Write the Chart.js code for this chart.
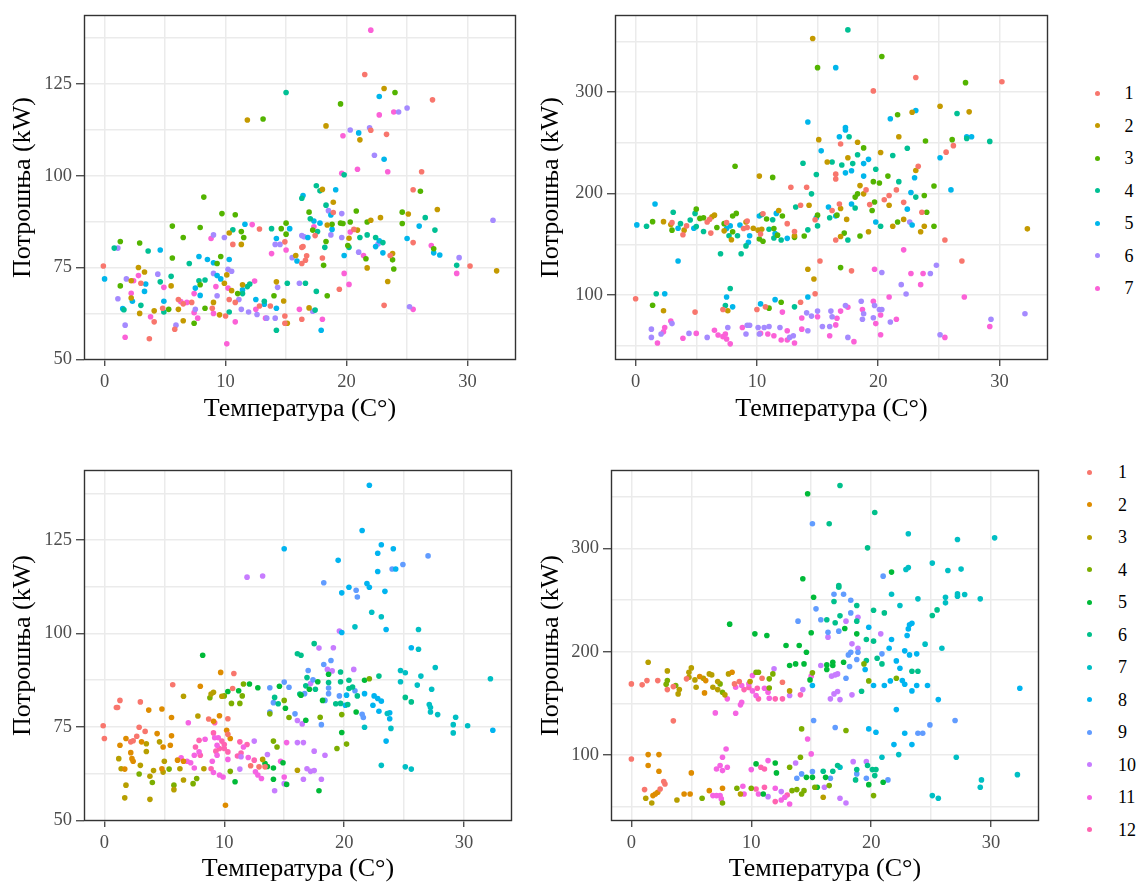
<!DOCTYPE html>
<html>
<head>
  <title>Потрошња и температура</title>
  <script src="https://cdn.jsdelivr.net/npm/chart.js"></script>
  <style>
    body { margin: 0; width: 1142px; height: 886px; overflow: hidden; position: relative; background: #fff;
           font-family: 'Liberation Serif', 'Times New Roman', serif; }
    canvas { position: absolute; }
    .dot { position: absolute; width: 5px; height: 5px; border-radius: 50%; }
    .lab { position: absolute; font-size: 18px; line-height: 22px; color: #000; }
  </style>
</head>
<body>
  <script>
    // labels and colours (ggplot hue palette)
    const dayLabels = ['1', '2', '3', '4', '5', '6', '7'];
    const monthLabels = ['1', '2', '3', '4', '5', '6', '7', '8', '9', '10', '11', '12'];
    const dayColors = ['#F8766D', '#C49A00', '#53B400', '#00C094', '#00B6EB', '#A58AFF', '#FB61D7'];
    const monthColors = ['#F8766D', '#DE8C00', '#B79F00', '#7CAE00', '#00BA38', '#00C08B',
                         '#00BFC4', '#00B4F0', '#619CFF', '#C77CFF', '#F564E3', '#FF64B0'];
    const xTitle = 'Температура (C°)';
    const yTitle = 'Потрошња (kW)';
    const xTicks = [0, 10, 20, 30];
    const yTicksA = [50, 75, 100, 125];
    const yTicksB = [100, 200, 300];

    // building A (left panels), coloured by day of week: [temperature, kW]
    const aDay1 = [[12.8,85.5],[10.6,81.3],[14.9,82.0],[-0.1,75.4],[3.0,70.7],[4.8,63.9],[3.7,55.6],[4.1,60.2],[5.8,58.2],[6.1,66.3],[6.5,65.1],[7.2,65.5],[8.9,63.9],[10.0,61.8],[10.3,66.3],[10.8,65.5],[12.8,64.5],[13.7,64.5],[14.9,61.8],[14.9,59.8],[16.4,80.7],[21.5,127.6],[27.1,120.7],[22.0,112.4],[23.3,111.3],[26.2,101.1],[25.5,96.2],[18.9,90.0],[20.6,85.4],[25.5,81.8],[30.2,75.4],[23.6,78.3],[23.1,64.7],[19.4,69.1],[18.0,77.6],[16.7,78.2],[16.6,77.0],[16.3,76.1],[16.3,80.5],[17.4,83.7],[16.3,60.9]];
    const aDay2 = [[11.8,115.2],[10.3,84.4],[11.3,81.3],[15.8,78.3],[2.2,71.4],[2.8,75.0],[3.3,73.8],[2.2,66.7],[2.9,62.5],[4.1,63.2],[5.5,70.0],[6.1,63.6],[6.5,60.5],[9.0,65.5],[9.5,62.1],[9.9,70.7],[10.1,73.0],[10.5,68.7],[11.4,70.3],[14.2,71.1],[14.8,65.9],[15.1,59.8],[23.1,123.8],[18.3,113.6],[21.1,109.8],[18.0,96.3],[18.9,92.8],[25.1,89.6],[27.5,90.8],[18.4,86.6],[22.0,87.9],[22.8,88.6],[20.9,85.2],[32.4,74.1],[20.2,83.0],[23.8,78.8],[21.7,74.9],[23.4,71.2],[16.9,64.0]];
    const aDay3 = [[13.1,115.5],[8.2,94.2],[9.7,89.7],[10.8,89.4],[5.6,86.3],[7.9,85.9],[6.5,83.2],[1.3,82.1],[2.9,81.7],[5.6,77.6],[9.3,76.1],[9.6,78.0],[11.3,84.8],[11.5,83.2],[14.6,85.6],[15.0,87.1],[15.0,84.1],[1.3,70.0],[5.3,63.6],[7.9,70.3],[7.4,59.8],[8.3,63.9],[11.0,67.9],[14.0,67.3],[24.0,122.7],[19.5,119.6],[26.1,95.8],[16.9,90.1],[20.8,90.4],[24.6,90.1],[18.8,86.8],[19.5,87.1],[19.7,87.0],[20.3,87.4],[21.7,87.4],[24.6,87.0],[17.2,85.2],[27.2,80.1],[20.1,81.0],[21.6,77.4],[23.8,77.1],[23.9,74.6],[18.4,67.3],[18.1,75.6],[18.3,82.1]];
    const aDay4 = [[15.0,122.7],[0.8,80.3],[3.6,79.5],[7.0,76.1],[10.6,85.3],[13.8,85.6],[3.0,64.7],[1.6,63.5],[4.6,71.1],[5.5,72.6],[4.9,62.9],[7.8,71.4],[8.3,71.6],[10.3,62.9],[11.8,69.8],[12.0,70.5],[11.4,67.9],[13.2,65.8],[14.2,57.9],[15.1,70.7],[16.3,93.9],[19.8,100.3],[17.5,97.3],[17.8,95.9],[18.3,92.0],[26.5,88.6],[17.0,88.3],[27.3,85.2],[17.6,84.8],[21.1,83.2],[21.7,83.9],[22.4,83.2],[23.0,81.8],[29.1,75.6],[20.2,80.5],[17.5,68.5],[16.6,70.7],[18.2,80.5],[17.4,63.4]];
    const aDay5 = [[0.0,71.9],[4.6,79.8],[7.8,78.0],[8.5,77.2],[9.0,76.3],[10.3,77.2],[11.6,86.8],[15.3,85.6],[14.2,82.9],[15.9,76.8],[3.4,70.5],[3.3,68.5],[1.5,63.8],[2.3,65.8],[4.9,65.8],[7.5,69.4],[7.9,67.4],[9.3,72.8],[9.6,71.9],[11.4,68.9],[12.5,66.3],[13.2,65.0],[14.2,63.9],[22.7,121.6],[21.0,111.7],[23.1,104.5],[19.1,96.2],[16.4,94.6],[18.7,89.3],[17.3,87.7],[17.8,87.1],[26.0,86.3],[18.8,85.4],[22.7,82.3],[22.4,80.7],[25.0,82.9],[27.2,79.0],[27.7,78.4],[19.8,78.3],[23.0,79.0],[16.8,83.2],[17.9,57.9]];
    const aDay6 = [[1.1,80.3],[9.0,83.9],[9.9,83.2],[14.1,81.3],[14.5,81.3],[15.5,77.7],[1.8,71.9],[1.1,66.5],[1.7,59.3],[4.4,73.2],[5.9,59.3],[7.5,63.6],[9.0,73.4],[10.2,74.5],[10.5,74.0],[9.3,67.3],[11.1,66.3],[11.3,63.6],[11.9,62.9],[12.6,62.2],[13.4,61.2],[14.3,69.6],[14.1,61.2],[16.1,70.7],[16.3,83.7],[25.0,118.5],[24.3,117.4],[20.3,112.5],[21.9,113.1],[22.3,105.6],[18.5,90.5],[19.6,89.7],[32.1,87.9],[18.7,83.9],[22.6,81.4],[29.3,77.7],[19.6,83.2],[21.0,79.2],[25.2,64.3],[17.2,63.1],[16.5,83.4]];
    const aDay7 = [[8.8,82.9],[12.2,86.7],[13.8,78.8],[15.0,79.8],[2.4,71.4],[2.8,72.8],[2.2,68.0],[1.7,56.0],[3.8,61.6],[4.9,69.6],[6.3,65.7],[6.8,65.5],[7.4,67.9],[7.4,62.7],[7.7,61.2],[9.2,69.8],[9.0,62.5],[10.2,69.4],[10.8,60.2],[12.4,71.3],[12.5,63.6],[13.3,61.2],[16.1,63.6],[10.1,54.2],[22.0,139.7],[22.7,116.6],[23.9,117.4],[19.7,110.9],[20.9,101.8],[19.6,100.7],[23.4,101.1],[17.3,86.1],[20.3,84.7],[27.0,81.0],[29.1,73.4],[21.4,78.3],[25.5,63.6],[19.8,73.4],[20.2,70.4],[18.0,60.9]];

    // building B (right panels), coloured by day of week
    const bDay1 = [[12.8,206.3],[14.1,206.3],[13.6,188.5],[3.0,171.4],[3.9,159.5],[4.2,168.2],[6.1,174.6],[5.9,172.0],[6.2,161.1],[7.5,171.4],[9.2,173.0],[8.9,165.6],[9.2,166.6],[10.5,180.1],[10.3,160.1],[12.5,170.4],[13.1,162.7],[14.8,174.3],[15.2,133.6],[0.0,96.4],[4.9,83.2],[7.2,85.8],[10.0,85.8],[10.7,88.4],[13.6,92.9],[14.8,101.3],[23.1,314.5],[30.2,310.3],[19.6,301.3],[16.9,248.9],[26.2,247.3],[25.6,240.9],[16.5,219.2],[16.5,214.4],[23.3,227.0],[19.0,203.7],[21.5,203.7],[20.9,198.2],[20.5,194.0],[16.2,183.4],[16.8,189.8],[19.3,189.2],[22.1,191.4],[23.6,181.7],[25.5,154.3],[16.5,154.3],[17.8,123.9],[26.9,133.6]];
    const bDay2 = [[14.6,353.0],[15.1,253.2],[15.8,231.2],[10.2,217.3],[14.3,188.5],[6.5,178.8],[6.3,177.2],[9.1,172.0],[2.3,172.4],[2.9,169.5],[4.0,164.0],[7.3,163.3],[7.9,154.6],[9.7,165.9],[10.1,164.0],[10.4,164.9],[11.8,183.4],[13.1,158.5],[14.2,125.5],[14.7,115.8],[2.3,84.5],[7.6,84.5],[22.8,280.3],[25.1,286.1],[27.5,280.6],[18.3,250.6],[21.7,256.1],[20.2,240.6],[17.5,235.4],[23.1,222.8],[18.5,207.9],[18.8,199.8],[16.9,185.3],[20.9,188.5],[17.4,174.6],[21.2,167.9],[22.1,174.6],[23.8,167.9],[23.5,162.4],[32.3,165.3],[16.9,157.8],[19.2,162.4]];
    const bDay3 = [[15.0,324.2],[8.2,227.0],[11.3,216.0],[5.0,184.7],[5.3,175.6],[5.6,176.3],[8.3,180.5],[8.0,177.9],[7.3,170.4],[10.8,175.0],[12.1,177.9],[1.4,172.4],[3.0,164.0],[6.7,166.6],[8.0,162.4],[10.2,155.3],[10.5,153.0],[11.4,165.6],[11.7,159.1],[13.1,156.9],[13.9,158.2],[15.0,178.8],[1.4,90.0],[11.0,87.1],[12.0,92.9],[20.3,335.2],[27.2,309.4],[21.6,277.7],[18.8,245.1],[23.9,251.9],[26.1,253.2],[20.8,217.3],[19.6,211.8],[20.1,210.5],[24.6,207.6],[18.3,199.8],[18.1,196.6],[23.8,198.2],[19.7,191.8],[19.5,183.4],[24.0,181.7],[16.6,178.8],[21.6,172.0],[24.6,167.9],[17.2,161.1],[18.5,158.2],[16.9,127.1]];
    const bDay4 = [[13.8,229.9],[14.9,218.9],[14.5,199.8],[13.2,186.9],[3.1,181.7],[4.9,180.5],[4.5,174.0],[10.4,179.5],[11.3,174.3],[0.9,167.9],[3.7,170.4],[5.0,167.5],[5.6,162.7],[7.7,158.5],[8.4,158.5],[9.1,148.5],[11.0,164.9],[11.4,156.2],[12.0,154.3],[14.2,164.3],[15.0,168.2],[7.0,140.7],[8.7,140.7],[1.7,101.3],[7.8,106.5],[7.4,89.7],[13.1,88.4],[17.5,361.4],[26.5,279.0],[17.6,256.1],[27.3,254.4],[29.2,251.5],[22.4,244.8],[21.2,237.6],[18.3,238.3],[16.2,231.2],[17.0,228.3],[17.9,229.6],[19.8,224.1],[21.7,211.8],[23.1,196.6],[18.1,185.9],[16.0,176.3],[20.2,167.9],[17.5,154.3]];
    const bDay5 = [[14.2,270.6],[15.3,242.2],[1.6,189.8],[10.2,177.9],[11.6,180.5],[0.1,169.2],[3.5,165.9],[4.8,165.9],[7.5,165.6],[7.8,168.2],[8.6,169.1],[9.4,158.5],[9.3,152.0],[11.5,160.7],[12.5,155.9],[14.9,176.3],[15.9,186.9],[3.5,133.6],[2.4,101.3],[7.5,98.1],[8.0,88.4],[10.3,91.3],[11.5,95.5],[14.2,98.1],[16.5,324.2],[21.0,273.8],[23.1,281.9],[17.3,265.1],[17.3,262.8],[16.8,256.1],[27.3,256.1],[27.7,256.1],[25.1,235.4],[19.2,233.8],[18.8,229.6],[17.3,220.5],[17.8,222.5],[18.8,217.3],[23.0,215.7],[26.0,203.7],[22.7,201.1],[17.8,189.8],[22.4,184.7],[16.5,177.9],[19.8,172.0],[22.8,169.1]];
    const bDay6 = [[14.1,82.5],[14.5,79.3],[15.0,84.2],[1.3,66.4],[1.3,58.3],[2.1,61.6],[3.0,71.9],[4.4,62.2],[5.9,58.3],[7.6,68.0],[9.1,61.6],[9.2,70.3],[9.4,70.3],[10.1,68.0],[10.2,61.6],[10.6,68.0],[11.0,69.0],[11.9,68.0],[12.7,58.3],[13.0,59.9],[14.2,64.8],[15.4,69.0],[16.0,69.0],[22.6,172.0],[20.3,122.3],[24.3,121.3],[24.8,129.4],[21.9,110.3],[22.3,101.0],[17.3,89.7],[16.1,84.2],[16.2,78.7],[17.5,58.3],[18.6,93.9],[18.8,81.6],[18.7,76.1],[19.7,89.7],[20.1,85.8],[20.3,85.8],[19.6,77.7],[21.0,73.5],[25.1,60.9],[29.3,76.1],[32.1,81.6]];
    const bDay7 = [[12.1,83.2],[13.7,77.4],[15.0,78.7],[1.8,52.8],[2.3,63.8],[2.4,68.0],[2.9,74.5],[3.9,57.4],[5.0,62.2],[6.5,65.4],[6.8,60.6],[7.2,59.0],[7.4,61.6],[7.5,56.7],[7.8,51.9],[8.8,68.0],[10.3,62.2],[10.9,61.6],[11.4,59.9],[12.0,55.7],[12.5,64.8],[12.5,55.7],[13.1,52.8],[13.7,66.4],[16.0,59.9],[22.1,144.6],[19.7,125.5],[22.7,121.3],[23.7,121.3],[23.5,110.3],[20.9,98.1],[27.1,98.1],[17.5,88.0],[16.9,84.2],[16.6,77.1],[16.5,70.6],[18.0,54.1],[18.7,85.8],[19.6,93.9],[20.2,80.3],[19.8,71.9],[20.2,60.9],[21.5,76.1],[25.5,58.3],[29.2,69.0]];

    // building A, coloured by month
    const aMon1 = [[10.8,89.3],[5.7,86.3],[1.3,82.1],[1.0,80.2],[1.1,80.2],[3.0,81.7],[8.7,77.1],[10.3,77.2],[10.7,85.3],[-0.1,75.3],[0.0,71.9],[2.2,71.0],[2.4,71.3],[2.7,72.5],[2.9,74.9],[3.4,73.8],[10.3,73.0],[12.2,64.6],[12.9,64.3],[13.4,64.3]];
    const aMon2 = [[9.7,89.6],[8.0,85.9],[3.7,79.5],[4.8,79.8],[5.6,77.5],[9.1,76.5],[9.6,78.0],[1.3,70.1],[1.8,71.9],[3.1,71.0],[1.7,63.7],[2.2,68.1],[2.3,66.5],[2.4,65.8],[4.8,63.8],[4.4,73.2],[4.9,69.6],[5.6,72.6],[5.5,70.1],[6.1,66.1],[6.6,65.8],[10.2,74.1],[10.5,71.9],[10.1,54.0]];
    const aMon3 = [[6.6,83.2],[7.8,77.9],[8.9,83.8],[9.1,84.3],[9.8,83.2],[3.5,70.5],[3.5,68.4],[1.2,66.5],[1.4,63.8],[3.0,64.7],[4.1,63.3],[1.8,59.4],[1.7,56.0],[3.8,55.6],[3.8,61.8],[4.6,71.0],[5.0,65.8],[4.9,62.9],[5.8,58.2],[6.3,63.8],[6.6,60.8],[8.3,63.8],[13.2,66.3],[16.1,63.4]];
    const aMon4 = [[8.8,82.8],[10.0,83.3],[11.5,83.3],[11.6,86.5],[10.6,81.3],[11.3,81.3],[15.0,82.1],[13.8,78.5],[15.4,77.5],[2.9,62.4],[4.0,60.1],[5.4,63.7],[5.8,59.4],[7.7,61.2],[7.4,59.8],[10.5,63.1],[14.1,71.2],[14.4,69.6],[22.1,87.9],[19.8,78.3],[20.2,70.4],[19.4,69.2],[18.0,77.6]];
    const aMon5 = [[8.2,94.2],[10.3,84.5],[11.2,84.7],[12.1,86.5],[12.8,85.5],[14.6,85.9],[15.1,80.0],[16.4,83.5],[10.9,60.3],[13.4,65.2],[13.6,64.4],[14.1,64.0],[14.1,61.0],[15.2,59.6],[14.9,65.4],[18.7,89.1],[17.8,87.1],[21.7,87.5],[17.1,85.1],[21.0,79.0],[19.8,73.5],[18.2,82.1],[16.8,76.8],[17.9,57.9]];
    const aMon6 = [[14.2,82.9],[14.5,81.2],[16.1,94.6],[16.4,94.2],[16.3,83.8],[17.5,97.3],[19.7,89.7],[16.9,88.2],[18.7,86.9],[19.7,87.1],[20.4,87.5],[22.9,88.6],[17.6,85.1],[20.4,85.3],[20.7,85.7],[21.1,83.3],[25.1,82.9],[25.6,81.7],[20.3,81.0],[19.7,81.3],[19.3,81.2],[16.8,86.0]];
    const aMon7 = [[22.3,105.7],[23.1,104.5],[20.9,101.8],[26.2,101.1],[26.2,95.8],[24.7,90.1],[25.1,89.5],[27.6,90.9],[26.4,88.6],[32.2,87.9],[24.7,87.1],[26.1,86.2],[27.3,85.1],[27.1,81.0],[27.2,80.2],[27.2,79.0],[27.8,78.3],[29.3,77.6],[29.1,75.6],[29.1,73.4],[30.3,75.3],[23.6,78.6],[21.7,74.9],[23.9,74.6],[23.1,64.7],[25.1,64.3],[25.6,63.7]];
    const aMon8 = [[15.0,122.7],[22.1,139.7],[21.5,127.6],[23.1,123.8],[24.1,122.7],[19.5,119.6],[22.8,121.5],[22.8,116.6],[24.3,117.3],[20.4,112.4],[19.8,110.9],[21.9,113.4],[22.1,112.4],[23.4,111.3],[19.8,100.3],[23.5,101.1],[25.6,96.2],[21.7,83.9],[22.5,83.3],[22.8,82.6],[23.1,81.9],[22.4,80.8],[32.4,74.1],[20.2,83.5],[20.1,80.8],[23.8,78.8],[23.8,77.2],[22.9,79.2],[23.5,71.2]];
    const aMon9 = [[13.8,85.5],[15.0,87.0],[15.4,85.6],[14.1,81.5],[13.8,79.0],[15.9,78.5],[27.0,120.8],[24.0,117.3],[24.9,118.5],[18.3,113.6],[21.0,111.6],[21.1,109.8],[18.9,92.8],[18.3,91.7],[17.0,90.1],[17.4,87.6],[18.7,85.4],[18.7,83.9],[20.9,84.7],[19.6,83.3],[21.5,78.4],[21.6,77.5],[18.1,75.6],[18.4,82.1],[16.7,83.9]];
    const aMon10 = [[11.9,115.1],[13.2,115.4],[16.1,76.7],[16.5,75.8],[11.4,67.0],[11.3,63.7],[12.5,71.2],[13.6,67.6],[14.2,57.9],[15.0,59.8],[16.1,70.8],[16.6,70.8],[16.6,61.0],[19.6,100.7],[17.9,96.1],[19.1,96.2],[18.6,90.4],[19.0,90.0],[20.8,90.4],[17.2,86.6],[18.4,67.4],[17.5,68.5],[16.9,63.8],[17.2,63.1],[17.5,63.3],[18.1,61.0]];
    const aMon11 = [[7.0,76.1],[6.4,66.7],[6.9,65.8],[7.2,65.4],[7.5,67.4],[7.9,68.3],[7.5,64.0],[8.4,71.7],[9.2,72.1],[9.5,72.1],[9.4,70.1],[9.4,67.4],[9.0,65.8],[9.1,62.8],[9.6,62.1],[9.9,61.6],[10.3,66.3],[11.6,69.6],[12.0,66.8],[12.6,63.0],[12.8,62.1],[13.1,61.2],[14.7,65.8],[15.0,61.6],[15.2,70.8]];
    const aMon12 = [[9.2,76.1],[7.6,69.6],[7.9,71.4],[8.0,67.4],[9.1,73.4],[9.8,71.2],[10.0,70.3],[9.3,68.5],[9.6,69.2],[10.0,69.2],[10.3,68.3],[8.9,63.8],[11.1,67.2],[11.4,68.0],[11.9,70.3],[11.3,71.0],[12.5,66.1]];

    // building B, coloured by month
    const bMon1 = [[0.0,168.8],[0.9,167.9],[1.3,172.0],[2.2,172.0],[3.0,163.3],[3.5,166.2],[4.6,173.7],[8.6,168.8],[9.0,171.1],[10.9,174.3],[12.6,170.4],[3.5,133.0],[0.0,96.1],[1.1,66.4],[2.4,67.0],[2.7,74.2],[2.8,71.9]];
    const bMon2 = [[5.7,175.9],[6.2,172.0],[6.1,160.1],[8.4,180.1],[1.4,100.3],[2.3,100.3],[1.4,89.7],[2.3,84.2],[1.8,60.6],[2.0,62.2],[2.2,63.8],[4.4,62.2],[4.9,62.2],[5.0,82.6],[6.5,65.4],[7.6,67.7]];
    const bMon3 = [[1.4,189.8],[3.0,181.4],[5.0,184.3],[4.8,180.1],[3.9,159.1],[4.8,175.3],[4.0,163.3],[5.3,172.7],[6.0,174.3],[6.5,178.5],[6.7,177.5],[5.4,165.6],[6.8,165.6],[7.2,171.1],[7.2,163.3],[7.8,158.2],[8.1,178.5],[9.9,171.1],[13.2,162.0],[1.2,58.0],[1.7,53.5],[3.8,56.4],[9.1,62.2],[16.0,59.0]];
    const bMon4 = [[3.0,172.0],[2.9,168.5],[3.7,167.2],[7.4,168.8],[7.6,160.7],[10.4,180.1],[10.6,180.1],[11.5,173.7],[11.8,178.5],[11.5,164.9],[15.1,179.5],[14.2,125.2],[5.9,58.0],[7.6,53.5],[8.8,67.7],[10.0,67.7],[13.2,88.0],[13.4,65.4],[13.8,66.4],[14.1,97.7],[14.2,62.2],[14.4,65.4],[19.4,188.2],[19.8,171.7],[22.1,174.3],[17.9,123.6],[15.3,68.7],[16.5,70.3],[20.2,60.6]];
    const bMon5 = [[14.7,353.0],[14.3,270.6],[15.2,252.8],[15.0,218.3],[8.2,226.7],[10.3,217.3],[11.3,215.7],[12.9,206.0],[14.0,206.0],[14.6,199.5],[13.7,188.2],[14.4,188.2],[13.2,186.6],[14.9,172.7],[10.4,91.3],[11.0,62.2],[12.0,92.2],[12.1,82.6],[14.6,78.3],[15.1,78.3],[15.5,68.7],[21.7,277.1],[17.8,222.5],[18.8,217.3],[17.7,189.8],[16.8,189.8],[16.8,186.6],[16.3,187.2],[16.3,182.7],[16.2,78.3],[19.8,71.2],[21.0,73.5]];
    const bMon6 = [[17.4,361.0],[20.3,334.9],[16.5,323.9],[19.7,300.6],[17.3,264.1],[17.3,262.5],[16.9,248.6],[18.8,244.7],[25.5,240.5],[25.1,235.1],[20.2,240.2],[21.1,237.6],[17.4,234.7],[18.8,229.6],[16.3,230.9],[17.0,228.0],[20.2,210.2],[19.6,211.8],[20.5,193.7],[20.9,188.2],[19.6,191.4],[23.4,181.1],[23.9,181.1],[19.2,161.7],[17.2,89.7],[16.8,84.2],[16.0,84.2],[18.8,85.8],[18.7,75.8],[19.7,89.7],[20.1,85.8],[20.4,85.8],[20.3,80.0]];
    const bMon7 = [[23.1,314.2],[30.3,310.3],[27.2,308.7],[22.9,279.6],[23.1,281.6],[25.1,285.8],[26.4,278.7],[27.5,280.0],[21.7,255.7],[23.9,251.2],[26.2,252.8],[26.2,247.3],[27.2,256.0],[27.8,255.4],[27.2,253.8],[29.1,251.2],[22.4,244.7],[24.5,207.3],[25.9,203.4],[22.3,100.3],[20.9,97.7],[27.1,97.7],[17.4,88.0],[25.1,60.6],[25.6,58.0],[29.1,68.7],[29.2,75.8],[32.2,80.9]];
    const bMon8 = [[15.1,167.2],[19.8,223.7],[21.7,211.8],[23.0,215.7],[23.1,222.1],[23.2,226.0],[23.4,227.6],[21.5,203.4],[22.8,200.8],[23.2,196.9],[23.8,197.9],[19.5,182.7],[22.1,191.1],[22.4,184.0],[20.2,167.2],[21.1,167.2],[21.6,171.7],[22.6,172.0],[22.8,168.5],[23.4,162.0],[23.8,167.2],[24.7,167.2],[25.6,153.6],[32.4,164.6],[22.1,143.9],[19.8,125.2],[20.4,122.0],[22.8,121.0],[21.9,110.0],[23.4,110.0]];
    const bMon9 = [[15.1,323.9],[15.4,241.5],[15.8,230.9],[13.9,229.6],[15.2,133.3],[13.8,77.4],[14.2,81.6],[15.1,83.8],[21.0,273.2],[16.9,255.7],[17.7,255.7],[18.3,249.9],[18.3,237.6],[17.3,219.9],[16.4,218.9],[18.1,196.9],[18.3,199.5],[18.8,192.4],[18.9,199.5],[20.9,197.9],[18.2,185.6],[17.9,174.3],[17.0,126.5],[23.9,121.0],[24.3,121.0],[24.9,129.1],[27.0,133.3],[16.6,77.4],[18.8,81.6],[19.6,77.4],[21.4,75.8]];
    const bMon10 = [[11.9,183.4],[13.2,157.5],[14.3,163.3],[15.8,186.6],[11.4,59.6],[12.5,64.5],[13.7,92.2],[18.9,233.4],[17.9,229.6],[16.4,214.1],[20.8,217.3],[18.4,207.6],[18.9,203.4],[16.7,176.3],[17.0,177.5],[17.2,178.5],[17.2,161.4],[16.9,159.1],[16.6,154.3],[17.4,153.6],[18.4,158.2],[17.4,58.0],[17.9,53.5],[16.1,68.7],[18.5,93.5],[19.6,93.5]];
    const bMon11 = [[8.0,154.3],[8.7,165.6],[9.2,167.2],[9.2,151.0],[9.1,148.5],[9.8,168.8],[10.1,176.9],[10.1,162.0],[10.4,157.5],[11.1,164.6],[11.4,160.7],[11.5,154.9],[15.0,176.3],[7.0,140.7],[8.7,140.4],[14.7,115.5],[6.8,60.6],[7.1,60.6],[7.4,60.6],[7.5,57.4],[7.1,86.4],[7.4,89.7],[7.6,97.7],[7.9,105.8],[7.6,84.8],[8.0,88.0],[9.3,69.6],[9.4,62.2],[10.0,85.8],[10.6,62.2],[11.4,94.5],[12.0,67.7],[12.5,56.4],[12.8,59.0],[13.2,52.5],[15.0,101.0]];
    const bMon12 = [[9.4,163.3],[10.5,164.6],[10.6,154.3],[9.8,165.3],[12.0,154.3],[12.6,154.3],[14.1,158.2],[10.4,67.0],[10.8,88.0],[11.1,86.4],[11.1,68.7],[12.0,54.8],[13.0,61.2]];

    Chart.defaults.font.family = "'Liberation Serif', 'Times New Roman', serif";

    const tickFont = 18.5;
    const titleFont = 26;

    // panel border drawn on top, like ggplot's panel.border
    const framePlugin = {
      id: 'frame',
      afterDatasetsDraw(chart) {
        const a = chart.chartArea;
        const ctx = chart.ctx;
        ctx.save();
        ctx.strokeStyle = '#333333';
        ctx.lineWidth = 1.4;
        ctx.strokeRect(Math.round(a.left) + 0.5, Math.round(a.top) + 0.5,
                       Math.round(a.right - a.left) - 1, Math.round(a.bottom - a.top) - 1);
        ctx.restore();
      }
    };

    function isMajor(v, list) {
      return list.some(t => Math.abs(t - v) < 1e-6);
    }

    // one panel = one canvas; area = plot box in page pixels [left, top, right, bottom]
    function makePanel(p) {
      const canvas = document.createElement('canvas');
      canvas.width = p.width;
      canvas.height = p.height;
      canvas.style.left = p.left + 'px';
      canvas.style.top = p.top + 'px';
      document.body.appendChild(canvas);

      const [al, at, ar, ab] = p.area;
      const yAxisW = al - p.left;
      const xAxisH = p.top + p.height - ab;
      const titleLH = titleFont * 1.2;
      const tickLH = tickFont * 1.2;

      const datasets = p.groups.map((g, i) => ({
        label: p.labels[i],
        data: g.map(([x, y]) => ({ x: x, y: y })),
        backgroundColor: p.colors[i],
        pointBackgroundColor: p.colors[i],
        pointBorderWidth: 0,
        pointRadius: 2.8,
        pointHoverRadius: 2.8
      }));

      const gridOpts = (majors, len) => ({
        color: '#EBEBEB',
        lineWidth: 1.5,
        drawTicks: true,
        tickLength: len,
        tickWidth: 1.2,
        tickColor: c => isMajor(c.tick.value, majors) ? '#333333' : 'rgba(0,0,0,0)'
      });

      new Chart(canvas, {
        type: 'scatter',
        data: { datasets: datasets },
        options: {
          responsive: false,
          animation: false,
          events: [],
          layout: { padding: { left: 0, top: at - p.top, right: p.left + p.width - ar, bottom: 0 } },
          plugins: { legend: { display: false }, tooltip: { enabled: false } },
          scales: {
            x: {
              type: 'linear',
              min: -1.7,
              max: 34,
              afterFit: s => { s.height = xAxisH; },
              grid: gridOpts(xTicks, 6),
              border: { display: false },
              ticks: {
                stepSize: 5,
                includeBounds: false,
                autoSkip: false,
                maxRotation: 0,
                padding: 22.5 - 6 - tickLH / 2,
                color: '#4D4D4D',
                font: { size: tickFont },
                callback: v => isMajor(v, xTicks) ? String(v) : ''
              },
              title: {
                display: true,
                text: xTitle,
                color: '#000',
                font: { size: titleFont },
                padding: { top: 0, bottom: p.top + p.height - p.xTitleY - titleLH / 2 }
              }
            },
            y: {
              type: 'linear',
              min: p.yMin,
              max: p.yMax,
              afterFit: s => { s.width = yAxisW; },
              grid: gridOpts(p.yMajor, 8),
              border: { display: false },
              ticks: {
                stepSize: p.yStep,
                includeBounds: false,
                autoSkip: false,
                padding: 4,
                color: '#4D4D4D',
                font: { size: tickFont },
                callback: v => isMajor(v, p.yMajor) ? String(v) : ''
              },
              title: {
                display: true,
                text: yTitle,
                color: '#000',
                font: { size: titleFont },
                padding: { top: 23 - titleLH / 2, bottom: 0 }
              }
            }
          }
        },
        plugins: [framePlugin]
      });
    }

    // legend column: dot + label
    function makeLegend(labels, colors, dotX, textX, y0, step) {
      labels.forEach((lab, i) => {
        const y = y0 + i * step;
        const dot = document.createElement('div');
        dot.className = 'dot';
        dot.style.left = (dotX - 2.5) + 'px';
        dot.style.top = (y - 2.5) + 'px';
        dot.style.background = colors[i];
        document.body.appendChild(dot);
        const t = document.createElement('div');
        t.className = 'lab';
        t.textContent = lab;
        t.style.left = textX + 'px';
        t.style.top = (y - 11) + 'px';
        document.body.appendChild(t);
      });
    }

    makePanel({ left: 0, top: 0, width: 530, height: 440, area: [84, 9, 516, 360], xTitleY: 409,
                yMin: 49.8, yMax: 143.8, yStep: 12.5, yMajor: yTicksA,
                groups: [aDay1, aDay2, aDay3, aDay4, aDay5, aDay6, aDay7], colors: dayColors, labels: dayLabels });
    makePanel({ left: 528, top: 0, width: 534, height: 440, area: [615, 9, 1048, 360], xTitleY: 409,
                yMin: 36, yMax: 376, yStep: 50, yMajor: yTicksB,
                groups: [bDay1, bDay2, bDay3, bDay4, bDay5, bDay6, bDay7], colors: dayColors, labels: dayLabels });
    makePanel({ left: 0, top: 440, width: 530, height: 446, area: [84, 470, 512, 821], xTitleY: 869,
                yMin: 49.8, yMax: 143.8, yStep: 12.5, yMajor: yTicksA,
                groups: [aMon1, aMon2, aMon3, aMon4, aMon5, aMon6, aMon7, aMon8, aMon9, aMon10, aMon11, aMon12],
                colors: monthColors, labels: monthLabels });
    makePanel({ left: 528, top: 440, width: 534, height: 446, area: [611, 470, 1039, 821], xTitleY: 869,
                yMin: 36, yMax: 376, yStep: 50, yMajor: yTicksB,
                groups: [bMon1, bMon2, bMon3, bMon4, bMon5, bMon6, bMon7, bMon8, bMon9, bMon10, bMon11, bMon12],
                colors: monthColors, labels: monthLabels });

    makeLegend(dayLabels, dayColors, 1097.7, 1124.5, 93.3, 32.5);
    makeLegend(monthLabels, monthColors, 1089.3, 1118, 472.3, 32.5);
  </script>
</body>
</html>
